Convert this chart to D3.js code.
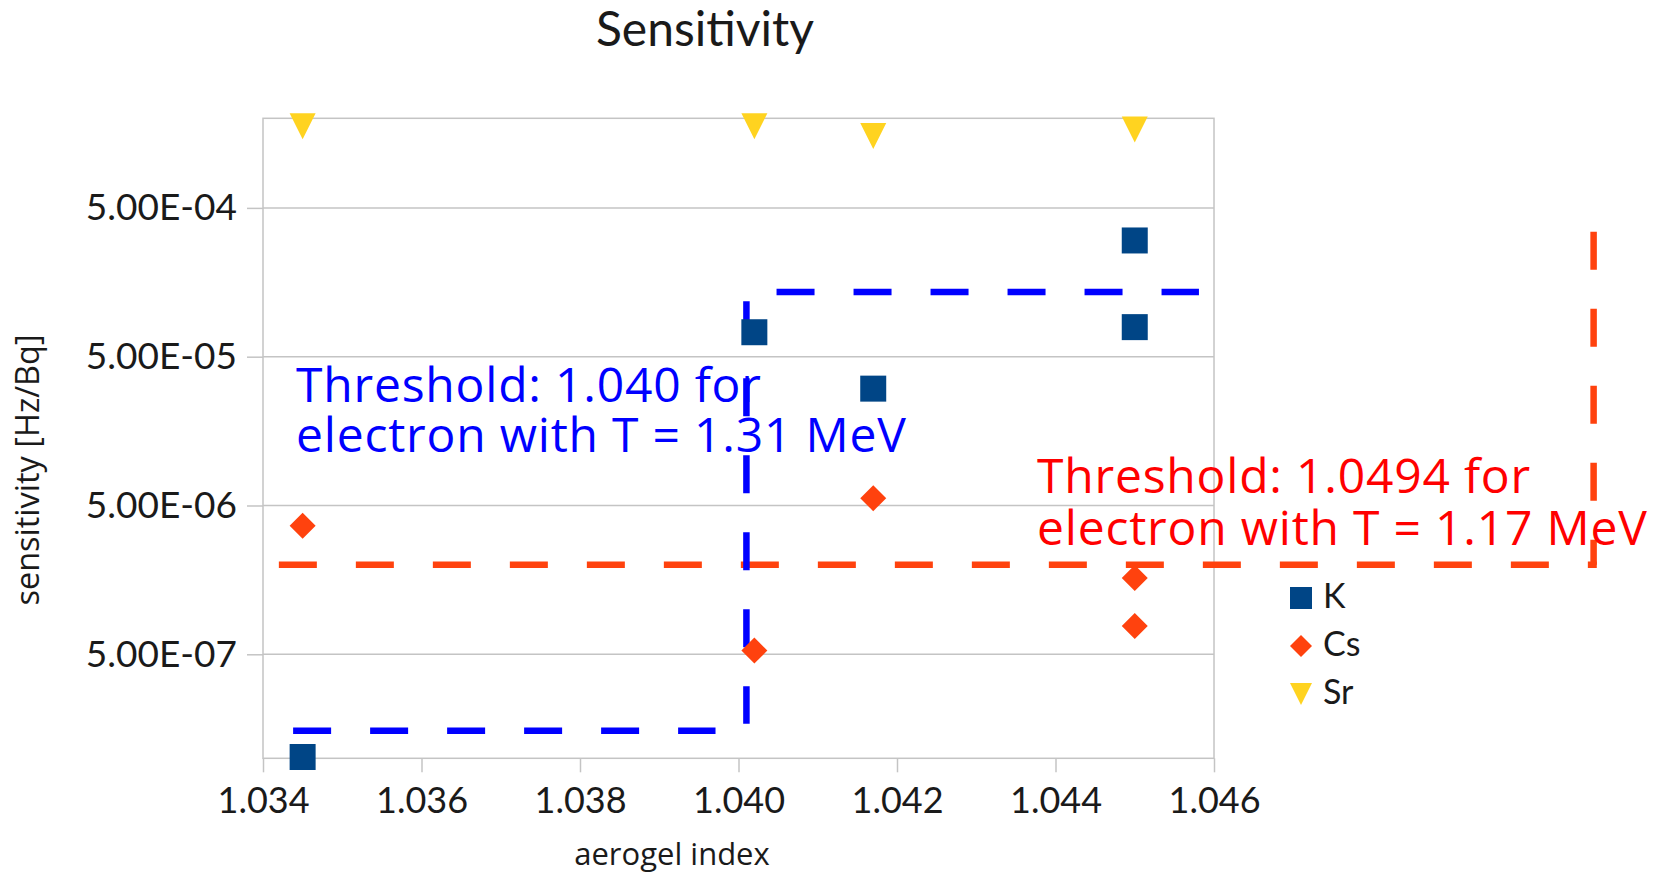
<!DOCTYPE html>
<html>
<head>
<meta charset="utf-8">
<script src="https://cdn.jsdelivr.net/npm/d3@7"></script>
<style>
  body { margin: 0; background: #fff; }
  svg { display: block; }
</style>
</head>
<body>
<div class="container"></div>
<script>
// data
let kIndex = [1.0345, 1.0402, 1.0417, 1.045, 1.045]
let kSens = [1.02e-7, 7.3e-5, 3.05e-5, 3.02e-4, 7.9e-5]

let csIndex = [1.0345, 1.0402, 1.0417, 1.045, 1.045]
let csSens = [3.65e-6, 5.3e-7, 5.6e-6, 1.63e-6, 7.75e-7]

let srIndex = [1.0345, 1.0402, 1.0417, 1.045]
let srSens = [1.77e-3, 1.77e-3, 1.52e-3, 1.68e-3]

let xTicks = [1.034, 1.036, 1.038, 1.040, 1.042, 1.044, 1.046]
let yTicks = [5e-7, 5e-6, 5e-5, 5e-4]

let seriesNames = ['K', 'Cs', 'Sr']

// threshold guide lines (data units)
let blueLines = [
  {x1: 1.03438, y1: 1.53e-7, x2: 1.03971, y2: 1.53e-7},
  {x1: 1.0401, y1: 1.18e-4, x2: 1.0401, y2: 1.71e-7},
  {x1: 1.04048, y1: 1.36e-4, x2: 1.04581, y2: 1.36e-4}
]
let redLines = [
  {x1: 1.0342, y1: 2e-6, x2: 1.05083, y2: 2e-6},
  {x1: 1.05079, y1: 3.46e-4, x2: 1.05079, y2: 2e-6}
]

let blueNote = ['Threshold: 1.040 for', 'electron with T = 1.31 MeV']
let redNote = ['Threshold: 1.0494 for', 'electron with T = 1.17 MeV']

let colors = {K: '#004586', Cs: '#ff420e', Sr: '#ffd320'}

let plotLeft = 263, plotRight = 1214, plotTop = 118.3, plotBottom = 758.3

let svg = d3.select('.container')
    .append('svg')
    .attr('width', 1670)
    .attr('height', 874)

let x = d3.scaleLinear().domain([1.034, 1.046]).range([plotLeft, plotRight])
let y = d3.scaleLog().domain([1e-7, 2e-3]).range([plotBottom, plotTop])

function fmtE(v) {
  let s = v.toExponential(2).toUpperCase()   // 5.00E-4
  return s.replace(/E([+-])(\d)$/, 'E$10$2')
}

// gridlines
svg.append('g')
  .selectAll('line')
  .data(yTicks)
  .enter().append('line')
    .attr('x1', plotLeft)
    .attr('x2', plotRight)
    .attr('y1', d => y(d))
    .attr('y2', d => y(d))
    .attr('stroke', '#c4c4c4')
    .attr('stroke-width', 1.5)

// frame
svg.append('rect')
  .attr('x', plotLeft)
  .attr('y', plotTop)
  .attr('width', plotRight - plotLeft)
  .attr('height', plotBottom - plotTop)
  .attr('fill', 'none')
  .attr('stroke', '#c4c4c4')
  .attr('stroke-width', 1.5)

let yAxis = svg.append('g')
  .attr('transform', `translate(${plotLeft},0)`)
  .call(d3.axisLeft(y).tickValues(yTicks).tickFormat(fmtE).tickSize(16).tickPadding(10))

let xAxis = svg.append('g')
  .attr('transform', `translate(0,${plotBottom})`)
  .call(d3.axisBottom(x).tickValues(xTicks).tickFormat(d3.format('.3f')).tickSize(14).tickPadding(15))

svg.selectAll('.domain').remove()
svg.selectAll('.tick line').attr('stroke', '#c4c4c4').attr('stroke-width', 1.5)
svg.selectAll('.tick text')
  .attr('fill', '#1a1a1a')
  .style('font-family', 'Lato')
  .style('font-size', '36px')
yAxis.selectAll('.tick text').style('font-size', '37px')

// title and axis titles
svg.append('text')
  .attr('x', 705)
  .attr('y', 46)
  .attr('text-anchor', 'middle')
  .style('font-family', 'Lato')
  .style('font-size', '48px')
  .attr('fill', '#1a1a1a')
  .text('Sensitivity')

svg.append('text')
  .attr('x', 672)
  .attr('y', 865)
  .attr('text-anchor', 'middle')
  .style('font-family', 'Open Sans')
  .style('font-size', '31px')
  .attr('fill', '#1a1a1a')
  .text('aerogel index')

svg.append('text')
  .attr('transform', 'translate(39,470) rotate(-90)')
  .attr('text-anchor', 'middle')
  .style('font-family', 'Open Sans')
  .style('font-size', '32.5px')
  .attr('fill', '#1a1a1a')
  .text('sensitivity [Hz/Bq]')

// marker shapes
function square(r) {
  return `M${-r},${-r}h${2 * r}v${2 * r}h${-2 * r}Z`
}
function diamond(r) {
  return `M0,${-r}L${r},0L0,${r}L${-r},0Z`
}
function triDown(r) {
  return `M${-r},${-r}L${r},${-r}L0,${r}Z`
}

// dashed threshold lines
svg.append('g')
  .selectAll('line')
  .data(redLines)
  .enter().append('line')
    .attr('x1', d => x(d.x1))
    .attr('y1', d => y(d.y1))
    .attr('x2', d => x(d.x2))
    .attr('y2', d => y(d.y2))
    .attr('stroke', '#ff420e')
    .attr('stroke-width', 6.5)
    .attr('stroke-dasharray', '38 39')

svg.append('g')
  .selectAll('line')
  .data(blueLines)
  .enter().append('line')
    .attr('x1', d => x(d.x1))
    .attr('y1', d => y(d.y1))
    .attr('x2', d => x(d.x2))
    .attr('y2', d => y(d.y2))
    .attr('stroke', '#0000ff')
    .attr('stroke-width', 6.5)
    .attr('stroke-dasharray', '38 39')

// points
svg.append('g')
  .selectAll('path')
  .data(kIndex.map((v, i) => [v, kSens[i]]))
  .enter().append('path')
    .attr('transform', d => `translate(${x(d[0])},${y(d[1])})`)
    .attr('d', square(13))
    .attr('fill', colors.K)

svg.append('g')
  .selectAll('path')
  .data(csIndex.map((v, i) => [v, csSens[i]]))
  .enter().append('path')
    .attr('transform', d => `translate(${x(d[0])},${y(d[1])})`)
    .attr('d', diamond(13))
    .attr('fill', colors.Cs)

svg.append('g')
  .selectAll('path')
  .data(srIndex.map((v, i) => [v, srSens[i]]))
  .enter().append('path')
    .attr('transform', d => `translate(${x(d[0])},${y(d[1])})`)
    .attr('d', triDown(13))
    .attr('fill', colors.Sr)

// annotations
let blueText = svg.append('text')
  .attr('fill', '#0000ff')
  .style('font-family', 'Open Sans')
  .style('font-size', '48px')
  .style('letter-spacing', '0.8px')
blueText.selectAll('tspan')
  .data(blueNote)
  .enter().append('tspan')
    .attr('x', 296)
    .attr('y', (d, i) => 402 + i * 50)
    .text(d => d)

let redText = svg.append('text')
  .attr('fill', '#ff0000')
  .style('font-family', 'Open Sans')
  .style('font-size', '48px')
  .style('letter-spacing', '0.8px')
redText.selectAll('tspan')
  .data(redNote)
  .enter().append('tspan')
    .attr('x', 1037)
    .attr('y', (d, i) => 493 + i * 52)
    .text(d => d)

// legend
let shapes = {K: square, Cs: diamond, Sr: triDown}
let legend = svg.append('g')
  .selectAll('g')
  .data(seriesNames)
  .enter().append('g')
    .attr('transform', (d, i) => `translate(1301,${598 + i * 48})`)

legend.append('path')
  .attr('d', d => shapes[d](11))
  .attr('fill', d => colors[d])

legend.append('text')
  .attr('x', 22)
  .attr('y', 10)
  .style('font-family', 'Lato')
  .style('font-size', '34px')
  .attr('fill', '#1a1a1a')
  .text(d => d)
</script>
</body>
</html>
